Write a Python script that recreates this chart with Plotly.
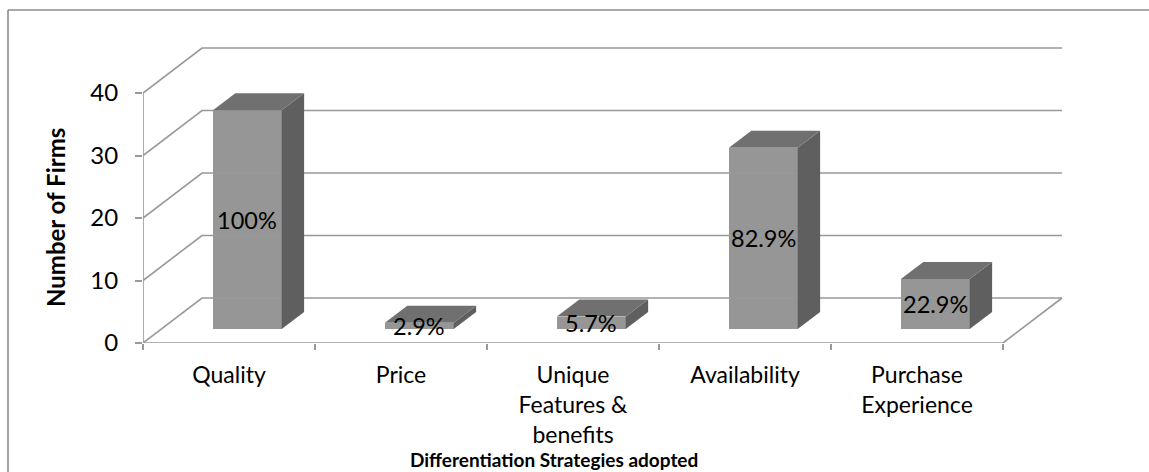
import plotly.graph_objects as go

# ---- data ----
categories = ["Quality", "Price", "Unique<br>Features &<br>benefits", "Availability", "Purchase<br>Experience"]
firms = [35, 1, 2, 29, 8]
pct_labels = ["100%", "2.9%", "5.7%", "82.9%", "22.9%"]
y_ticks = [0, 10, 20, 30, 40]

# ---- geometry / style ----
W, H = 1149, 472
ML, MR, MT, MB = 143, 60, 30, 129
PW, PH = W - ML - MR, H - MT - MB
X0, X1 = -0.5, -0.5 + PW / 172.0
Y0, Y1 = 0, PH / 6.25
DX, DY = 59 / 172.0, 45 / 6.25      # oblique depth offset in data units
D0, D1 = 0.31, 0.69                  # bar depth span (fraction of floor depth)
BW = 0.4
GRID = "#999999"
FRONT, TOP, SIDE = "#969696", "#707070", "#5f5f5f"
FONT = "Lato, Open Sans, sans-serif"

def px2paper(px, py):
    return (px - ML) / PW, (H - MB - py) / PH

fig = go.Figure()
n = len(categories)
xl, xr = -0.5, n - 0.5

# back wall gridlines + left wall diagonals
for v in y_ticks:
    fig.add_trace(go.Scatter(x=[xl, xl + DX, xr + DX], y=[v, v + DY, v + DY],
                             mode="lines", line=dict(color=GRID, width=1.6),
                             hoverinfo="skip", showlegend=False))
# floor front and right edges
fig.add_trace(go.Scatter(x=[xl, xr, xr + DX], y=[0, 0, DY], mode="lines",
                         line=dict(color=GRID, width=1.6), hoverinfo="skip", showlegend=False))
# front vertical axis line
fig.add_trace(go.Scatter(x=[xl, xl], y=[0, max(y_ticks)], mode="lines",
                         line=dict(color=GRID, width=1.6), hoverinfo="skip", showlegend=False))

# bar side and top faces
dd = D1 - D0
for i, v in enumerate(firms):
    bx0 = i - BW / 2 + D0 * DX
    bx1 = i + BW / 2 + D0 * DX
    yb = D0 * DY
    yt = yb + v
    fig.add_trace(go.Scatter(
        x=[bx1, bx1, bx1 + dd * DX, bx1 + dd * DX, bx1],
        y=[yb, yt, yt + dd * DY, yb + dd * DY, yb],
        mode="lines", fill="toself", fillcolor=SIDE, line=dict(width=0, color=SIDE),
        hoverinfo="skip", showlegend=False))
    fig.add_trace(go.Scatter(
        x=[bx0, bx1, bx1 + dd * DX, bx0 + dd * DX, bx0],
        y=[yt, yt, yt + dd * DY, yt + dd * DY, yt],
        mode="lines", fill="toself", fillcolor=TOP, line=dict(width=0, color=TOP),
        hoverinfo="skip", showlegend=False))

# bar front faces
fig.add_trace(go.Bar(
    x=[i + D0 * DX for i in range(n)], y=firms, base=[D0 * DY] * n, width=BW,
    marker=dict(color=FRONT, line=dict(width=0)), showlegend=False, hoverinfo="skip"))

# percentage labels at the centre of each front face
for i, (v, t) in enumerate(zip(firms, pct_labels)):
    fig.add_annotation(x=i + D0 * DX, y=D0 * DY + v / 2, text=t, showarrow=False,
                       font=dict(family=FONT, size=23.5, color="#000000"),
                       xanchor="center", yanchor="middle")

# axis titles
tx, ty = px2paper(55, 218)
fig.add_annotation(x=tx, y=ty, xref="paper", yref="paper", text="<b>Number of Firms</b>",
                   textangle=-90, showarrow=False, font=dict(family=FONT, size=24, color="#000"),
                   xanchor="center", yanchor="middle")
tx, ty = px2paper(554, 472)
fig.add_annotation(x=tx, y=ty, xref="paper", yref="paper",
                   text="<b>Differentiation Strategies adopted</b>", showarrow=False,
                   font=dict(family=FONT, size=19, color="#000"), xanchor="center", yanchor="bottom",
                   borderpad=0)

# chart border (left and top)
bl, bt = px2paper(8, 10)
br, bb = px2paper(W + 5, H + 5)
fig.add_shape(type="line", xref="paper", yref="paper", x0=bl, y0=bb, x1=bl, y1=bt,
              line=dict(color="#8c8c8c", width=1.6))
fig.add_shape(type="line", xref="paper", yref="paper", x0=bl, y0=bt, x1=br, y1=bt,
              line=dict(color="#8c8c8c", width=1.6))

fig.update_layout(
    width=W, height=H, margin=dict(l=ML, r=MR, t=MT, b=MB, pad=0),
    plot_bgcolor="white", paper_bgcolor="white", bargap=0,
    font=dict(family=FONT, color="#000"),
    xaxis=dict(range=[X0, X1], tickmode="array", tickvals=list(range(n)), ticktext=categories,
               showgrid=False, zeroline=False, showline=False, ticks="",
               tickfont=dict(size=23, family=FONT), ticklabelstandoff=16,
               minor=dict(tickmode="array", tickvals=[k - 0.5 for k in range(n + 1)],
                          ticks="outside", ticklen=6, tickcolor=GRID, tickwidth=1.6, showgrid=False),
               fixedrange=True),
    yaxis=dict(range=[Y0, Y1], tickmode="array", tickvals=y_ticks, showgrid=False,
               zeroline=False, showline=False, ticks="outside", ticklen=7, tickcolor=GRID,
               tickwidth=1.6, tickfont=dict(size=24, family=FONT), ticklabelstandoff=12,
               fixedrange=True),
)

fig.write_html("out.html")
